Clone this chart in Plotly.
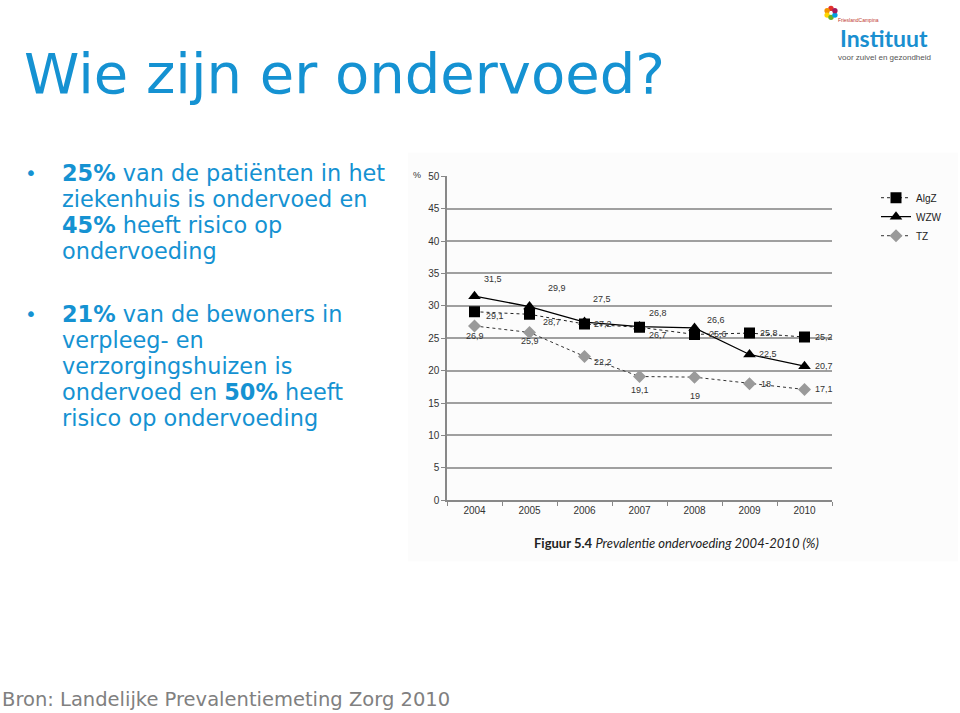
import math
import plotly.graph_objects as go

# ---------------- data ----------------
years = ["2004", "2005", "2006", "2007", "2008", "2009", "2010"]
algz = [29.1, 28.7, 27.2, 26.7, 25.6, 25.8, 25.2]
wzw = [31.5, 29.9, 27.5, 26.8, 26.6, 22.5, 20.7]
tz = [26.9, 25.9, 22.2, 19.1, 19.0, 18.0, 17.1]
series_names = ["AlgZ", "WZW", "TZ"]
y_ticks = [0, 5, 10, 15, 20, 25, 30, 35, 40, 45, 50]

bullet1 = ["<b>25%</b> van de patiënten in het", "ziekenhuis is ondervoed en",
           "<b>45%</b> heeft risico op", "ondervoeding"]
bullet2 = ["<b>21%</b> van de bewoners in", "verpleeg- en", "verzorgingshuizen is",
           "ondervoed en <b>50%</b> heeft", "risico op ondervoeding"]

# label offsets (pixels) per point, purely presentational
algz_off = [(20, -4), (22, -8), (18, 0), (18, -8), (23, 0), (19, 0), (19, 0)]
wzw_off = [(18, 17), (27, 19), (17, 23), (18, 14), (21, 8), (18, 0), (19, 0)]
tz_off = [(0, -10), (0, -9), (18, -6), (0, -13), (0, -19), (16, 0), (19, 0)]

W, H = 960, 713
BLUE = "#1592d2"


def px(x):
    return x / W


def py(y):
    return 1 - y / H


def fmt(v):
    return ("%g" % v).replace(".", ",")


def note(x, y, text, font, xanchor="center", yanchor="middle", **kw):
    return dict(x=px(x), y=py(y), xref="paper", yref="paper", text=text, showarrow=False,
                xanchor=xanchor, yanchor=yanchor, font=font, **kw)


fig = go.Figure()

fig.add_trace(go.Scatter(
    x=years, y=algz, name=series_names[0], mode="lines+markers",
    line=dict(color="#222222", width=1, dash="dot"),
    marker=dict(symbol="square", size=11, color="#000000"),
))
fig.add_trace(go.Scatter(
    x=years, y=wzw, name=series_names[1], mode="lines+markers",
    line=dict(color="#000000", width=1.3),
    marker=dict(symbol="triangle-up", size=11, color="#000000"),
))
fig.add_trace(go.Scatter(
    x=years, y=tz, name=series_names[2], mode="lines+markers",
    line=dict(color="#333333", width=1, dash="dot"),
    marker=dict(symbol="diamond", size=10, color="#9a9a9a"),
))

annotations = []
lab_font = dict(family="Liberation Sans", size=9, color="#333333")
for vals, offs in ((algz, algz_off), (wzw, wzw_off), (tz, tz_off)):
    for i, (v, (dx, dy)) in enumerate(zip(vals, offs)):
        annotations.append(dict(
            x=i, y=v, xref="x", yref="y", text=fmt(v), showarrow=False,
            xanchor="center", yanchor="middle", xshift=dx, yshift=dy, font=lab_font,
        ))

# "%" label
annotations.append(note(417, 173, "%", dict(family="Liberation Sans", size=9, color="#333333")))

# caption
annotations.append(note(676, 546, "<b>Figuur 5.4</b> <i>Prevalentie ondervoeding 2004-2010 (%)</i>",
                        dict(family="Lato", size=13, color="#222222")))

# title
annotations.append(note(22, 70, "Wie zijn er ondervoed?",
                        dict(family="DejaVu Sans", size=56, color=BLUE), xanchor="left"))

# bullets
bullet_font = dict(family="DejaVu Sans", size=22.4, color=BLUE)
for lines, y0 in ((bullet1, 171), (bullet2, 314)):
    for k, t in enumerate(lines):
        annotations.append(note(60, y0 + k * 26.3, t, bullet_font, xanchor="left"))
    annotations.append(note(31, y0, "•", dict(family="DejaVu Sans", size=20, color=BLUE)))

# footer
annotations.append(note(0, 705, "Bron: Landelijke Prevalentiemeting Zorg 2010",
                        dict(family="DejaVu Sans", size=19.5, color="#808080"), xanchor="left"))

# logo (text)
annotations.append(note(884, 34, "<b>Instituut</b>", dict(family="Lato", size=23, color="#1a8fd0")))
annotations.append(note(884, 53, "voor zuivel en gezondheid",
                        dict(family="Liberation Sans", size=8, color="#555555")))
annotations.append(note(858, 15, "FrieslandCampina",
                        dict(family="Liberation Sans", size=5, color="#c0392b")))

shapes = [
    dict(type="rect", xref="paper", yref="paper", x0=px(408), x1=px(958), y0=py(565), y1=py(150),
         fillcolor="#fcfcfc", line=dict(width=0), layer="below"),
]
# star of logo
star_cols = ["#e4312b", "#f39200", "#ffd500", "#6ab023", "#009fe3", "#a3195b"]
for i, c in enumerate(star_cols):
    a = math.radians(90 + i * 60)
    cx, cy = 831 + 4.5 * math.cos(a), 8 - 4.5 * math.sin(a)
    shapes.append(dict(type="circle", xref="paper", yref="paper",
                       x0=px(cx - 2.7), x1=px(cx + 2.7), y0=py(cy + 2.7), y1=py(cy - 2.7),
                       fillcolor=c, line=dict(width=0)))

fig.update_layout(
    width=W, height=H,
    margin=dict(l=0, r=0, t=0, b=0),
    paper_bgcolor="white", plot_bgcolor="rgba(0,0,0,0)",
    showlegend=True,
    legend=dict(x=px(876), y=py(181), xanchor="left", yanchor="top",
                font=dict(family="Liberation Sans", size=10, color="#222222"),
                bgcolor="rgba(0,0,0,0)", itemwidth=30, tracegroupgap=0),
    xaxis=dict(domain=[px(447), px(832)], type="category", range=[-0.5, 6.5],
               showgrid=False, showline=True, linecolor="#888888", linewidth=1.5,
               ticks="outside", tickson="boundaries", ticklen=4, tickcolor="#888888",
               tickfont=dict(family="Liberation Sans", size=10, color="#333333"),
               fixedrange=True),
    yaxis=dict(domain=[py(503), py(174)], range=[0, 50], tickvals=y_ticks,
               showgrid=True, gridcolor="#a0a0a0", gridwidth=1.6,
               showline=True, linecolor="#888888", linewidth=1.5,
               ticks="outside", ticklen=4, tickcolor="#888888", zeroline=False,
               tickfont=dict(family="Liberation Sans", size=10, color="#333333"),
               fixedrange=True),
    annotations=annotations,
    shapes=shapes,
)

fig.write_html("out.html")
